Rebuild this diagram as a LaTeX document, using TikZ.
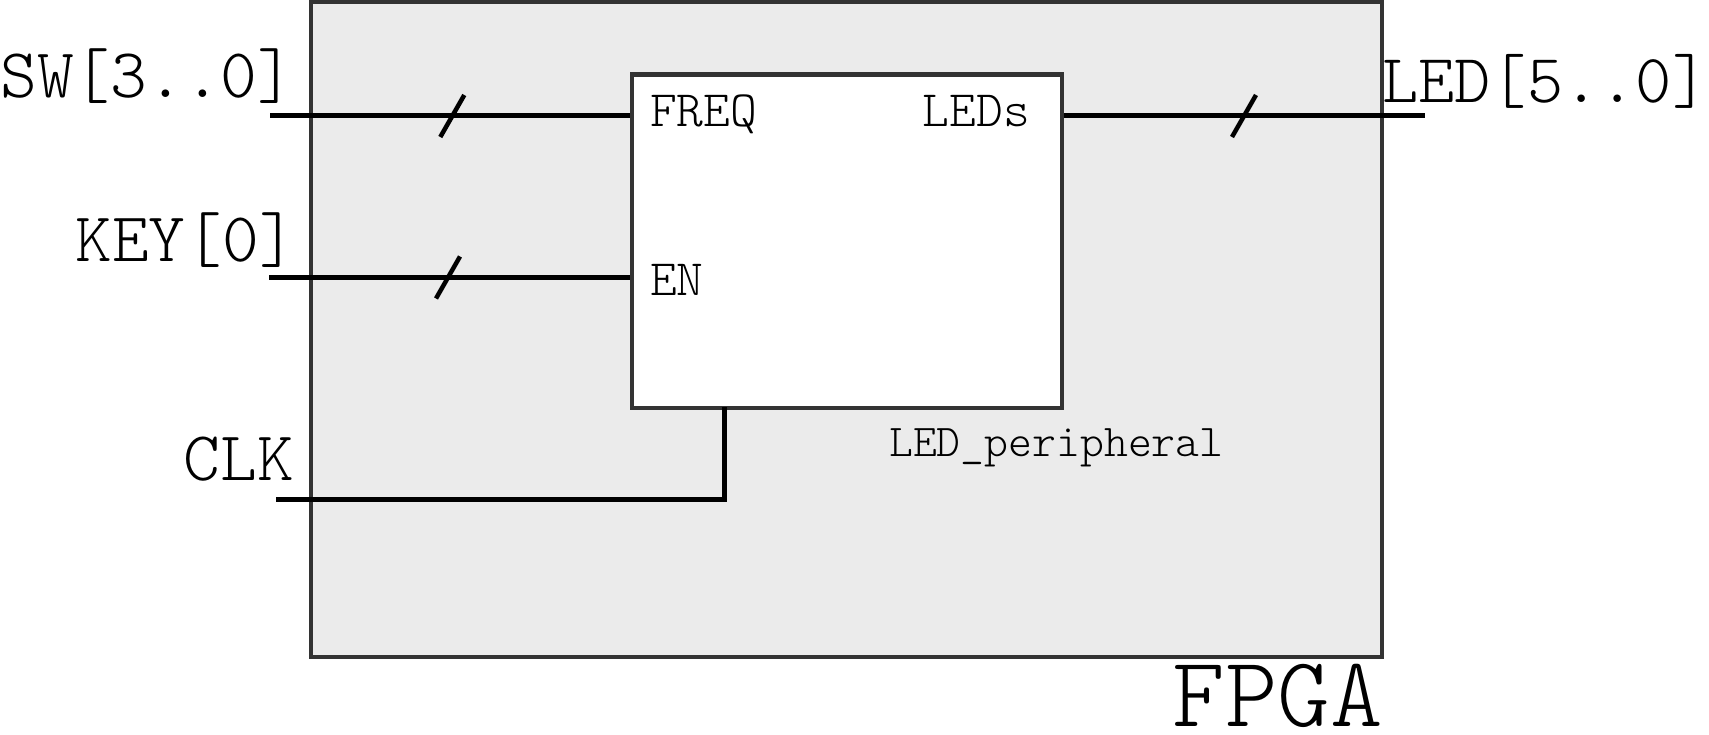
\documentclass[tikz,border=0pt]{standalone}
\usepackage{fontspec}
\definecolor{fpgafill}{HTML}{EBEBEB}
\definecolor{edge}{HTML}{333333}
\newcommand{\lmt}[1]{\ttfamily\fontseries{l}\fontsize{#1}{#1}\selectfont}
\tikzset{
  sig/.style={line width=5pt, black},
  tick/.style={line width=4.5pt, black},
  frame/.style={draw=edge, rectangle, inner sep=0pt},
  biglbl/.style={font=\lmt{70}, inner sep=0pt},
  portlbl/.style={font=\lmt{51}, inner sep=0pt},
  namelbl/.style={font=\lmt{45.5}, inner sep=0pt},
}
\begin{document}
\begin{tikzpicture}[x=1pt,y=-1pt]
\useasboundingbox (0,0) rectangle (1709,735);
% FPGA box
\node[frame, line width=4pt, fill=fpgafill, minimum width=1071pt, minimum height=655pt] (fpga) at (846.5,329.5) {};
% inner block
\node[frame, line width=4.6pt, fill=white, minimum width=430pt, minimum height=333pt] (blk) at (847,241.3) {};
% connector end points
\coordinate (swin) at (270,116);
\coordinate (keyin) at (269,278);
\coordinate (clkin) at (276,499.5);
\coordinate (ledout) at (1425,116);
\coordinate (clkport) at (724,407);
% signals
\draw[sig] (swin) -- (swin -| blk.west);
\draw[sig] (keyin) -- (keyin -| blk.west);
\draw[sig] (clkin) -- (clkin -| clkport) -- (clkport);
\draw[sig] (ledout -| blk.east) -- (ledout);
% bus ticks
\coordinate (t1) at (452.3,116);
\coordinate (t2) at (448,277.5);
\coordinate (t3) at (1244,116);
\draw[tick] (t1) +(-12,21) -- +(12,-21);
\draw[tick] (t2) +(-12,21) -- +(12,-21);
\draw[tick] (t3) +(-12,21) -- +(12,-21);
% labels
\node[biglbl, anchor=base east] (lsw) at (294.5,98) {SW[3..0]};
\node[biglbl, anchor=base east] (lkey) at (296,262) {KEY[0]};
\node[biglbl, anchor=base east] (lclk) at (294,480) {CLK};
\node[biglbl, font=\lmt{69}, anchor=base west] (lled) at (1382,103) {LED[5..0]};
\node[font=\lmt{100}, inner sep=0pt, anchor=base east] (lfpga) at (1383,726) {FPGA};
\node[portlbl, anchor=base west] (pfreq) at (650,127) {FREQ};
\node[portlbl, anchor=base west] (pen) at (650,296) {EN};
\node[portlbl, anchor=base east] (pleds) at (1030,127) {LEDs};
\node[namelbl, anchor=base west] (lname) at (889,456) {LED\_peripheral};
\end{tikzpicture}
\end{document}
